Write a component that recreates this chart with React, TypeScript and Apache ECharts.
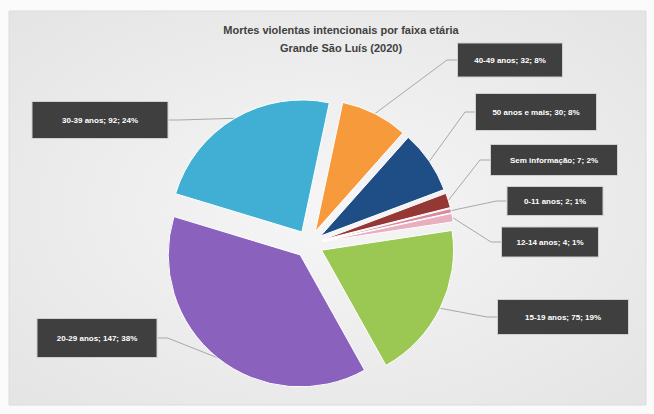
import React, { useEffect, useRef } from "react";
import * as echarts from "echarts";

const titleLines = ["Mortes violentas intencionais por faixa etária", "Grande São Luís (2020)"];
const categories = [
  "40-49 anos",
  "50 anos e mais",
  "Sem informação",
  "0-11 anos",
  "12-14 anos",
  "15-19 anos",
  "20-29 anos",
  "30-39 anos",
];
const values = [32, 30, 7, 2, 4, 75, 147, 92];
const colors = ["#F79A3C", "#1F4E86", "#953735", "#D98A9C", "#E8AFBF", "#9BC852", "#8A62BE", "#41AFD3"];
// label boxes: centre x, centre y, width, height (layout only)
const labelBoxes = [
  [510, 60, 104, 33],
  [536, 112, 120, 36],
  [554, 160, 126, 30],
  [555, 201, 95, 28],
  [550, 242, 96, 29],
  [563, 317, 130, 34],
  [97, 338, 119, 38],
  [100, 120, 135, 36],
];

const CX = 309;
const CY = 244;
const RADIUS = 132;
const START = 78;
const EXPLODE = 14;

export default function App() {
  const ref = useRef<HTMLDivElement>(null);
  useEffect(() => {
    if (!ref.current) return;
    const chart = echarts.init(ref.current, null, { renderer: "svg" });
    const total = values.reduce((a, b) => a + b, 0);
    let cum = 0;
    const series = categories.map((_, i) => {
      const mid = START - ((cum + values[i] / 2) / total) * 360;
      cum += values[i];
      const rad = (mid * Math.PI) / 180;
      const center = [CX + EXPLODE * Math.cos(rad), CY - EXPLODE * Math.sin(rad)];
      const data = categories.map((name, j) =>
        j === i
          ? {
              name,
              value: values[j],
              itemStyle: { color: colors[j] },
              label: {
                show: true,
                width: labelBoxes[j][2],
                height: labelBoxes[j][3],
                lineHeight: labelBoxes[j][3],
              },
              labelLine: { show: true },
            }
          : {
              name,
              value: values[j],
              itemStyle: { color: "rgba(0,0,0,0)", borderWidth: 0 },
              label: { show: false },
              labelLine: { show: false },
            }
      );
      return {
        type: "pie",
        name: categories[i],
        center,
        radius: RADIUS,
        startAngle: START,
        clockwise: true,
        avoidLabelOverlap: false,
        silent: true,
        itemStyle: { borderColor: "#ffffff", borderWidth: 1 },
        label: {
          position: "outside",
          formatter: (p: any) => `${p.name}; ${p.value}; ${Math.round(p.percent)}%`,
          color: "#ffffff",
          fontFamily: "Liberation Sans",
          fontSize: 8,
          fontWeight: "bold",
          backgroundColor: "#3f3f3f",
          borderColor: "#d0d0d0",
          borderWidth: 1,
          align: "center",
          verticalAlign: "middle",
        },
        labelLine: {
          length: 10,
          length2: 10,
          lineStyle: { color: "#a8a8a8", width: 1 },
        },
        labelLayout: (params: any) => {
          if (params.dataIndex !== i) return {};
          const b = labelBoxes[params.dataIndex];
          return { x: b[0], y: b[1], align: "center", verticalAlign: "middle" };
        },
        emphasis: { disabled: true },
        data,
      };
    });
    chart.setOption({
      animation: false,
      graphic: [
        {
          type: "rect",
          z: -10,
          silent: true,
          shape: { x: 9, y: 11, width: 637, height: 394 },
          style: {
            fill: new echarts.graphic.RadialGradient(0.5, 0.5, 0.75, [
              { offset: 0, color: "#f6f6f6" },
              { offset: 1, color: "#e3e3e3" },
            ]),
            stroke: "#dcdcdc",
            lineWidth: 1,
          },
        },
      ],
      title: {
        text: titleLines.join("\n"),
        left: 336,
        top: 16,
        textAlign: "center",
        textStyle: {
          fontFamily: "Liberation Sans",
          fontSize: 11,
          fontWeight: "bold",
          color: "#404040",
          lineHeight: 18,
        },
      },
      series,
    });
    return () => chart.dispose();
  }, []);
  return (
    <div
      ref={ref}
      style={{ position: "fixed", left: 0, top: 0, width: 654, height: 414, background: "#fbfbfb" }}
    />
  );
}
